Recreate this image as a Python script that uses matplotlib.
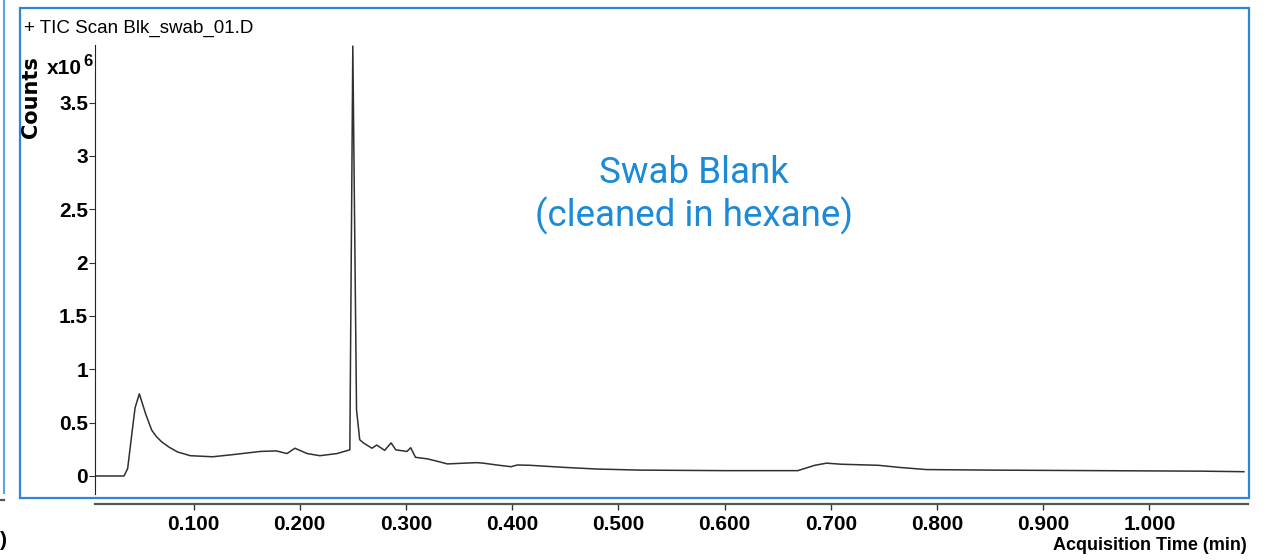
import matplotlib
matplotlib.use("Agg")
import matplotlib.pyplot as plt
from matplotlib.lines import Line2D
from matplotlib.patches import Rectangle
from matplotlib.ticker import FixedLocator, FormatStrFormatter

# TIC trace of the swab blank, counts in units of 1e6
time_min = [0.007, 0.0346, 0.038, 0.042, 0.045, 0.049, 0.055, 0.0606, 0.065,
            0.070, 0.077, 0.085, 0.097, 0.118, 0.137, 0.163, 0.178, 0.188,
            0.1955, 0.207, 0.219, 0.235, 0.2472, 0.2500, 0.2535, 0.2565,
            0.260, 0.268, 0.2725, 0.280, 0.286, 0.2905, 0.301, 0.3045, 0.309,
            0.3205, 0.331, 0.339, 0.3665, 0.373, 0.3855, 0.399, 0.405, 0.417,
            0.45, 0.48, 0.52, 0.60, 0.669, 0.685, 0.696, 0.71, 0.745, 0.765,
            0.79, 0.85, 0.95, 1.05, 1.089]
counts_e6 = [0.00, 0.00, 0.07, 0.40, 0.64, 0.77, 0.58, 0.43, 0.37,
             0.32, 0.27, 0.225, 0.19, 0.18, 0.20, 0.23, 0.235, 0.21,
             0.26, 0.21, 0.19, 0.21, 0.245, 4.03, 0.62, 0.34,
             0.31, 0.26, 0.29, 0.24, 0.31, 0.245, 0.23, 0.265, 0.175,
             0.16, 0.134, 0.113, 0.125, 0.12, 0.103, 0.087, 0.103, 0.10,
             0.08, 0.065, 0.055, 0.05, 0.05, 0.10, 0.12, 0.11, 0.10, 0.08,
             0.06, 0.055, 0.05, 0.045, 0.04]

x_ticks = [0.1, 0.2, 0.3, 0.4, 0.5, 0.6, 0.7, 0.8, 0.9, 1.0]
y_ticks = [0, 0.5, 1, 1.5, 2, 2.5, 3, 3.5]

title = "+ TIC Scan Blk_swab_01.D"
note = "Swab Blank\n(cleaned in hexane)"

W, H = 1263, 560
narrow = ["Liberation Sans Narrow", "Liberation Sans", "DejaVu Sans"]

fig = plt.figure(figsize=(W / 100, H / 100), dpi=100)


def fx(px):
    return px / W


def fy(py):
    return 1 - py / H


ax = fig.add_axes([fx(95), fy(494), fx(1248) - fx(95), fy(45) - fy(494)])
ax.plot(time_min, counts_e6, color="#303030", lw=1.1, antialiased=True)
ax.set_xlim(0.00725, 1.0929)
ax.set_ylim(-0.169, 4.04)

for s in ("top", "right"):
    ax.spines[s].set_visible(False)
ax.spines["left"].set_color("#222222")
ax.spines["left"].set_linewidth(0.8)
ax.spines["bottom"].set_position(("outward", 7))
ax.spines["bottom"].set_color("#555555")
ax.spines["bottom"].set_linewidth(1.6)

ax.xaxis.set_major_locator(FixedLocator(x_ticks))
ax.xaxis.set_major_formatter(FormatStrFormatter("%.3f"))
ax.yaxis.set_major_locator(FixedLocator(y_ticks))
ax.yaxis.set_major_formatter(FormatStrFormatter("%g"))
ax.tick_params(axis="x", length=4, width=1, color="#333333", pad=4)
ax.tick_params(axis="y", length=4, width=0.8, color="#333333", pad=1)
for lab in ax.get_xticklabels() + ax.get_yticklabels():
    lab.set_family(narrow)
    lab.set_fontweight("bold")
    lab.set_fontsize(15)

# frame around the panel
fig.add_artist(Rectangle((fx(20), fy(498)), fx(1249) - fx(20), fy(8) - fy(498),
                         transform=fig.transFigure, fill=False,
                         edgecolor="#2f86d6", lw=1.6))
# edge of the neighbouring panel
fig.add_artist(Line2D([fx(4), fx(4)], [fy(493), 1.0], transform=fig.transFigure,
                      color="#5aa5e6", lw=1.5))
fig.add_artist(Line2D([0, fx(4)], [fy(500), fy(500)], transform=fig.transFigure,
                      color="#555555", lw=1.6))
fig.text(0.0, fy(540), ")", family=narrow, fontweight="bold", fontsize=15,
         ha="left", va="center")

fig.text(fx(24), fy(28), title, family=narrow, fontsize=13.5, ha="left", va="center")
fig.text(fx(31), fy(97), "Counts", family="DejaVu Sans", fontweight="bold",
         fontsize=15, rotation=90, ha="center", va="center")
fig.text(fx(47), fy(68), "x10", family=narrow, fontweight="bold", fontsize=15,
         ha="left", va="center")
fig.text(fx(83), fy(61), "6", family=narrow, fontweight="bold", fontsize=12,
         ha="left", va="center")
fig.text(fx(1247), fy(545), "Acquisition Time (min)", family=narrow,
         fontweight="bold", fontsize=13, ha="right", va="center")

fig.text(fx(694), fy(195), note, family="Roboto", fontsize=26.5, color="#1c8ad6",
         ha="center", va="center", linespacing=1.2)

fig.savefig("out.png", dpi=100)
